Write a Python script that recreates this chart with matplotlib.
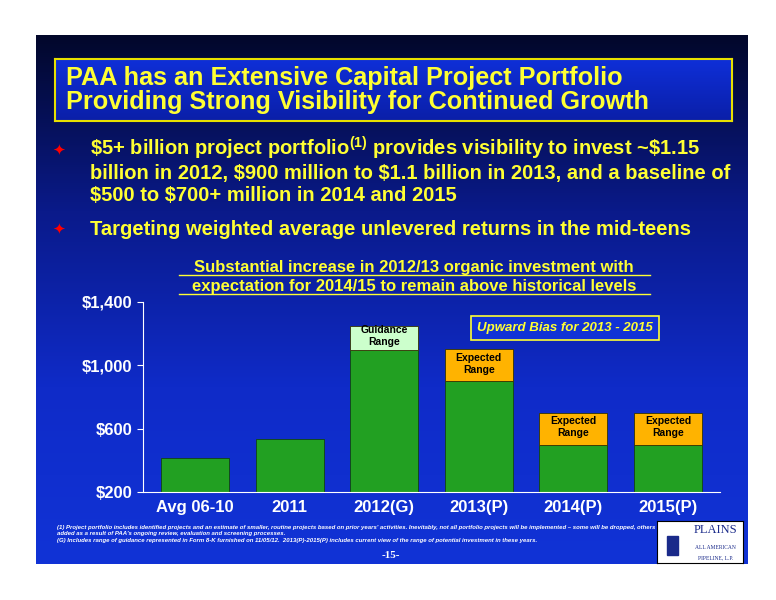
import matplotlib
matplotlib.use("Agg")
import matplotlib.pyplot as plt
import numpy as np
from matplotlib.patches import Rectangle
from matplotlib.colors import LinearSegmentedColormap

categories = ["Avg 06-10", "2011", "2012(G)", "2013(P)", "2014(P)", "2015(P)"]
base_values = [415, 535, 1100, 900, 500, 500]
range_top = [None, None, 1250, 1100, 700, 700]
range_labels = [None, None, "Guidance\nRange", "Expected\nRange", "Expected\nRange", "Expected\nRange"]
yticks = [200, 600, 1000, 1400]
ytick_labels = ["$200", "$600", "$1,000", "$1,400"]

W, H = 776, 600
fig = plt.figure(figsize=(W/100, H/100), dpi=100)
fig.patch.set_facecolor("white")
plt.rcParams['font.family'] = ['Liberation Sans', 'DejaVu Sans']
plt.rcParams['mathtext.fontset'] = 'custom'
plt.rcParams['mathtext.rm'] = 'Liberation Sans:bold'
plt.rcParams['mathtext.it'] = 'Liberation Sans:bold'
plt.rcParams['mathtext.bf'] = 'Liberation Sans:bold'

def fx(x): return x / W
def fy(y): return 1 - y / H

bg = fig.add_axes([fx(36), fy(564), fx(748-36), (564-35)/H])
cmap = LinearSegmentedColormap.from_list("g", ["#02072a", "#0a1a8a", "#0f2bc8", "#1133d6"])
grad = np.linspace(0, 1, 256).reshape(-1, 1)
bg.imshow(grad, aspect="auto", cmap=cmap, extent=[0, 1, 0, 1], origin="upper")
bg.set_axis_off()

tb = fig.add_axes([fx(55), fy(121), fx(732-55), (121-59)/H])
tcm = LinearSegmentedColormap.from_list("t", ["#0f2fd8", "#0a1fa8"])
tb.imshow(grad, aspect="auto", cmap=tcm, extent=[0, 1, 0, 1], origin="upper")
tb.set_xticks([]); tb.set_yticks([])
for s in tb.spines.values():
    s.set_color("#e8e000"); s.set_linewidth(1.5)
fig.text(fx(66), fy(90), "PAA has an Extensive Capital Project Portfolio\nProviding Strong Visibility for Continued Growth",
         color="#ffff33", fontsize=18.2, fontweight="bold", va="center", ha="left", linespacing=1.0)

yellow = "#ffff33"
bfs = 14.5
fig.text(fx(52), fy(150), "✦", color="red", fontsize=11, va="center", family=["DejaVu Sans"])
lines1 = [r"\$5+ billion project portfolio$^{(1)}$ provides visibility to invest ~\$1.15",
          r"billion in 2012, \$900 million to \$1.1 billion in 2013, and a baseline of",
          r"\$500 to \$700+ million in 2014 and 2015"]
for yy, s in zip([156, 179, 201], lines1):
    fig.text(fx(90), fy(yy), s, color=yellow, fontsize=bfs, fontweight="bold", va="baseline", ha="left")
fig.text(fx(52), fy(229), "✦", color="red", fontsize=11, va="center", family=["DejaVu Sans"])
fig.text(fx(90), fy(235), "Targeting weighted average unlevered returns in the mid-teens",
         color=yellow, fontsize=bfs, fontweight="bold", va="baseline", ha="left")

fig.text(fx(414), fy(272), "Substantial increase in 2012/13 organic investment with",
         color=yellow, fontsize=12, fontweight="bold", va="baseline", ha="center")
fig.text(fx(414), fy(291), "expectation for 2014/15 to remain above historical levels",
         color=yellow, fontsize=12, fontweight="bold", va="baseline", ha="center")
fig.add_artist(plt.Line2D([fx(179), fx(650)], [fy(275), fy(275)], color=yellow, lw=1))
fig.add_artist(plt.Line2D([fx(179), fx(650)], [fy(294), fy(294)], color=yellow, lw=1))

ax = fig.add_axes([fx(143), fy(492), fx(720-143), (492-302)/H])
ax.set_facecolor("none")
x = np.arange(len(categories))
bw = 0.72
ax.bar(x, [b - 200 for b in base_values], bottom=200, width=bw, color="#22a022", edgecolor="#114411", linewidth=0.6)
for i, (b, t, lab) in enumerate(zip(base_values, range_top, range_labels)):
    if t is None:
        continue
    col = "#ccffcc" if i == 2 else "#ffb300"
    ax.bar(i, t - b, bottom=b, width=bw, color=col, edgecolor="#333300", linewidth=0.6)
    ax.text(i, (b + t) / 2 + 10, lab, ha="center", va="center", fontsize=7.5, fontweight="bold", color="black")
ax.set_ylim(200, 1400)
ax.set_xlim(-0.55, 5.55)
ax.set_yticks(yticks)
ax.set_yticklabels(ytick_labels, color="white", fontsize=12, fontweight="bold")
ax.set_xticks(x)
ax.set_xticklabels(categories, color="white", fontsize=12, fontweight="bold")
ax.tick_params(axis="x", length=0, pad=6)
ax.tick_params(axis="y", colors="white", length=4, direction="out")
for sp in ("top", "right"):
    ax.spines[sp].set_visible(False)
for sp in ("left", "bottom"):
    ax.spines[sp].set_color("white")
ax.set_ylabel("Dollars in millions", color="white", fontsize=8, fontweight="bold", labelpad=38)

fig.text(fx(565), fy(328), "Upward Bias for 2013 - 2015", color=yellow, fontsize=9.5, fontweight="bold",
         style="italic", ha="center", va="center",
         bbox=dict(boxstyle="square,pad=0.45", fc="#1133d6", ec=yellow, lw=1.2))

fig.text(fx(57), fy(534), "(1) Project portfolio includes identified projects and an estimate of smaller, routine projects based on prior years' activities. Inevitably, not all portfolio projects will be implemented – some will be dropped, others\nadded as a result of PAA's ongoing review, evaluation and screening processes.\n(G) Includes range of guidance represented in Form 8-K furnished on 11/05/12.  2013(P)-2015(P) includes current view of the range of potential investment in these years.",
         color="white", fontsize=4.3, style="italic", fontweight="bold", va="center", ha="left", linespacing=1.3)
fig.text(fx(391), fy(556), "-15-", color="white", fontsize=8, fontweight="bold", ha="center", va="center", family=["Liberation Serif"])

lg = fig.add_axes([fx(657), fy(563), fx(86), 42/H])
lg.set_facecolor("white"); lg.set_xticks([]); lg.set_yticks([])
lg.text(0.68, 0.78, "PLAINS", color="#1a2a8a", fontsize=9, ha="center", va="center", family=["Liberation Serif"])
lg.text(0.68, 0.38, "ALL AMERICAN", color="#1a2a8a", fontsize=4, ha="center", va="center", family=["Liberation Serif"])
lg.text(0.68, 0.12, "PIPELINE, L.P.", color="#1a2a8a", fontsize=4, ha="center", va="center", family=["Liberation Serif"])
lg.add_patch(Rectangle((0.12, 0.2), 0.12, 0.45, color="#1a2a8a", transform=lg.transAxes))
lg.set_xlim(0, 1); lg.set_ylim(0, 1)

fig.savefig("out.png", dpi=100, facecolor="white")
